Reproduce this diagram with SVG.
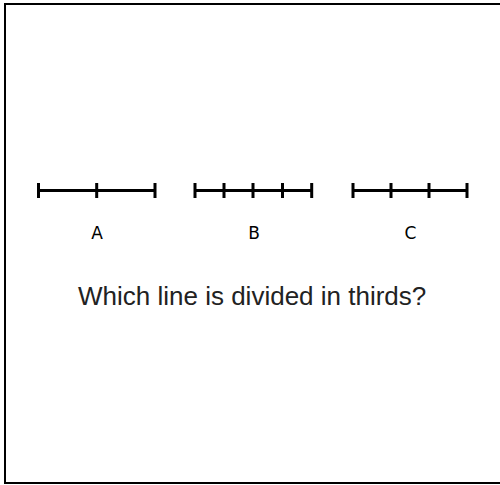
<svg xmlns="http://www.w3.org/2000/svg" width="500" height="485" viewBox="0 0 500 485">
<style>
.ln{stroke:#000;stroke-width:3;fill:none}
.lbl{font-family:"DejaVu Sans",sans-serif;font-size:17px;fill:#000;text-anchor:middle}
.q{font-family:"Liberation Sans",Arial,sans-serif;font-size:26px;fill:#222}
</style>
<rect x="5" y="4" width="520" height="479" fill="#fff" stroke="#000" stroke-width="2"/>
<g id="lineA">
<path class="ln" d="M38.5 190.5H155M38.5 183v15M96.7 183v15M155 183v15"/>
<text class="lbl" x="97" y="239">A</text>
</g>
<g id="lineB">
<path class="ln" d="M195 190.5H311.7M195 183v15M224 183v15M253 183v15M282.5 183v15M311.7 183v15"/>
<text class="lbl" x="254" y="239">B</text>
</g>
<g id="lineC">
<path class="ln" d="M353 190.5H467M353 183v15M391 183v15M429 183v15M467 183v15"/>
<text class="lbl" x="410.5" y="239">C</text>
</g>
<g id="connectors"/>
<text class="q" x="78" y="305">Which line is divided in thirds?</text>
</svg>
